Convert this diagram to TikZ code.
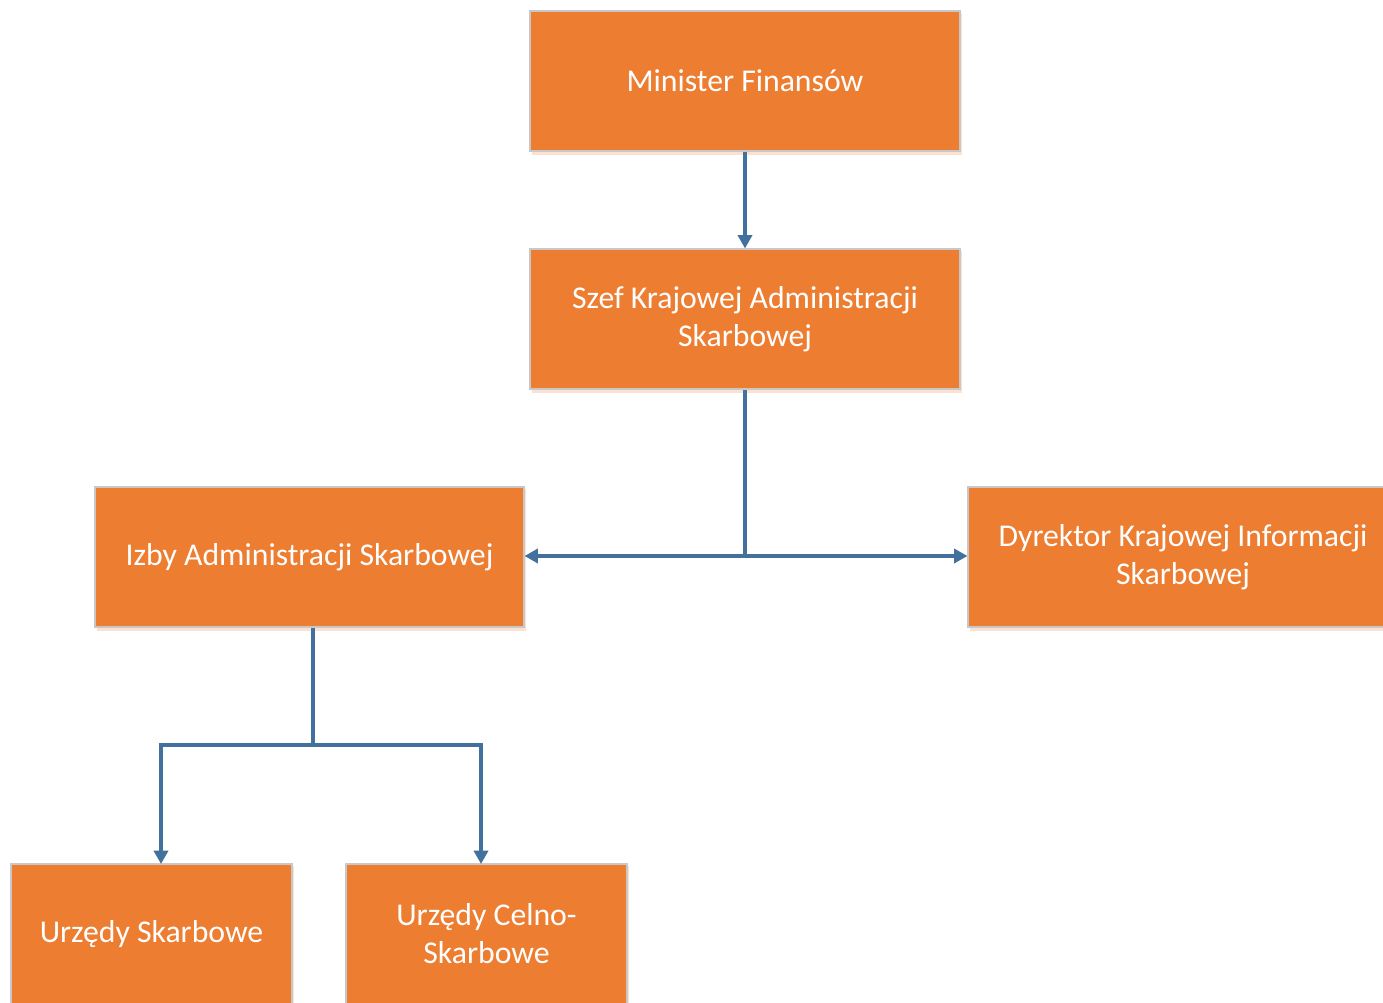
\documentclass[tikz,border=0pt]{standalone}
\usepackage{fontspec}
\setmainfont{Carlito}
\usetikzlibrary{arrows.meta}
\definecolor{boxorange}{HTML}{ED7D31}
\definecolor{linkblue}{HTML}{41719C}
\definecolor{boxedge}{HTML}{C8C8C8}
\definecolor{boxshade}{HTML}{FBE1CF}
\tikzset{
  orgbox/.style={draw=boxedge, line width=0.8pt, fill=boxorange, text=white,
    align=center, inner sep=0pt, font=\fontsize{23.8}{28.5}\selectfont,
    minimum height=105pt},
  link/.style={draw=linkblue, line width=2.8pt,
    -{Triangle[width=10.5pt,length=10pt]}},
  plainlink/.style={draw=linkblue, line width=2.8pt}
}
\begin{document}
\begin{tikzpicture}[x=0.75pt,y=-0.75pt]
\useasboundingbox (0,0) rectangle (1383,1002);
\fill[white] (0,0) rectangle (1383,1002);
\begin{scope}
\clip (0,0) rectangle (1383,1002);
% shadows
\foreach \l/\t/\r/\b in {530/11/960/151, 530/249/960/389, 95/487/524/627, 968/487/1398/627, 11/864/292/1004, 346/864/627/1004}
  \fill[boxshade] (\l+2,\t+2) rectangle (\r+2,\b+4);
\node[orgbox, minimum width=322.5pt] (mf) at (745,81) {Minister Finansów};
\node[orgbox, minimum width=322.5pt] (szef) at (745,319) {Szef Krajowej Administracji\\Skarbowej};
\node[orgbox, minimum width=321.75pt] (izby) at (309.5,557) {Izby Administracji Skarbowej};
\node[orgbox, minimum width=322.5pt] (dkis) at (1183,557) {Dyrektor Krajowej Informacji\\Skarbowej};
\node[orgbox, minimum width=210.75pt] (us) at (151.5,934) {Urzędy Skarbowe};
\node[orgbox, minimum width=210.75pt] (ucs) at (486.5,934) {Urzędy Celno-\\Skarbowe};
\end{scope}
\coordinate (j1) at (745,556);
\coordinate (j2) at (313,745);
\draw[link] (mf.south) -- (szef.north);
\draw[plainlink] (szef.south) -- (j1);
\draw[link] (j1) -- (izby.east |- j1);
\draw[link] (j1) -- (dkis.west |- j1);
\draw[plainlink] (izby.south -| j2) -- (j2);
\draw[link] (j2) -- (161,745) -- (161,864);
\draw[link] (j2) -- (481,745) -- (481,864);
\end{tikzpicture}
\end{document}
